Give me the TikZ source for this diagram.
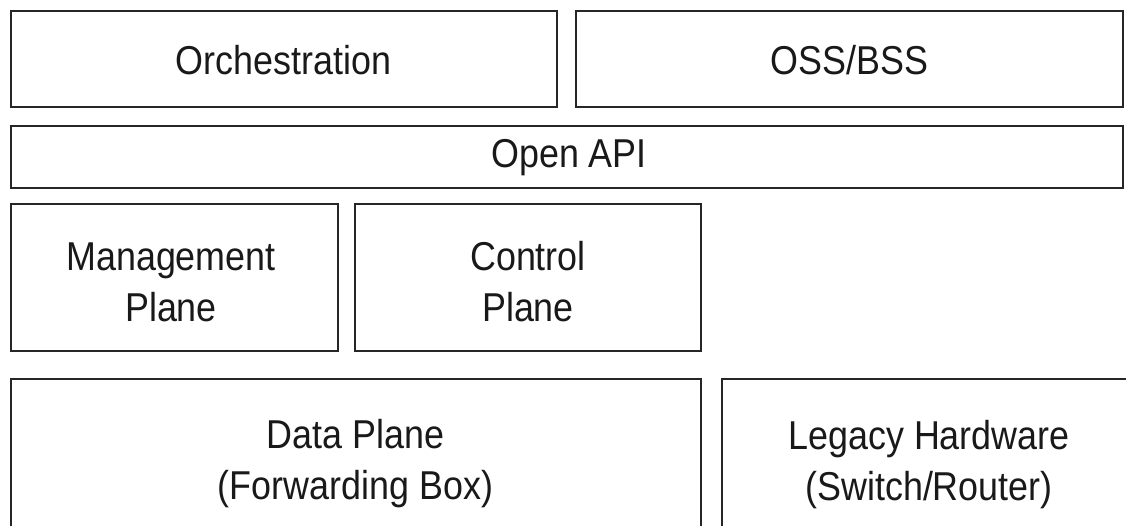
\documentclass[tikz,border=0pt]{standalone}
\usepackage{fontspec}
\setmainfont{Liberation Sans}[FakeStretch=0.89]
\begin{document}
\begin{tikzpicture}[x=1pt,y=-1pt,
  box/.style={draw=black!85,line width=2.2pt,fill=none},
  lbl/.style={font=\fontsize{40.3}{51}\selectfont,text=black!90,inner sep=0pt,align=center}]
\useasboundingbox (0,0) rectangle (1126,526);
% boxes
\draw[box] (11,11) rectangle (557,107);
\draw[box] (576,11) rectangle (1123,107);
\draw[box] (11,126) rectangle (1123,188);
\draw[box] (11,204) rectangle (338,351);
\draw[box] (355,204) rectangle (701,351);
\draw[box] (11,379) rectangle (701,545);
\draw[box] (722,379) rectangle (1140,545);
% labels
\node[lbl,anchor=base] (orchT) at (283.5,74.5) {Orchestration};
\node[lbl,anchor=base] (ossT) at (849.5,74.5) {OSS/BSS};
\node[lbl,anchor=base] (apiT) at (569,168) {Open API};
\node[lbl] (mgmtT) at (171,282) {Management\\Plane};
\node[lbl] (ctrlT) at (528,282) {Control\\Plane};
\node[lbl] (dataT) at (355.5,464) {Data Plane\\(Forwarding Box)};
\node[lbl] (legT) at (929,465) {Legacy Hardware\\(Switch/Router)};
\end{tikzpicture}
\end{document}
